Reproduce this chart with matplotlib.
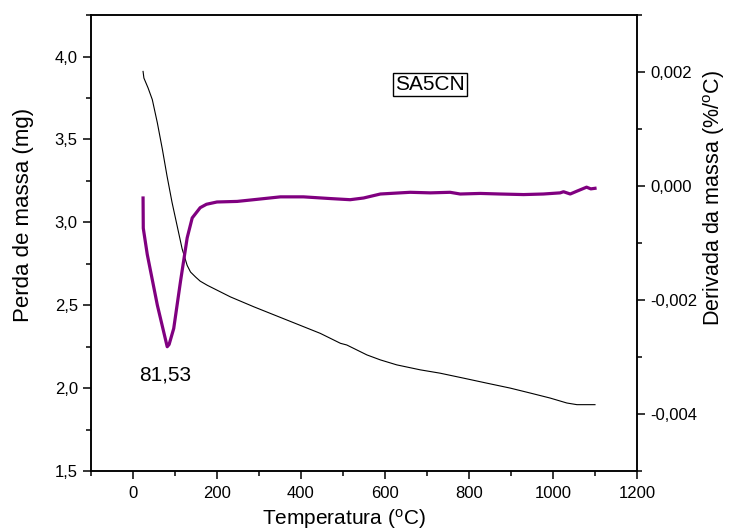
import matplotlib
matplotlib.use("Agg")
import matplotlib.pyplot as plt
from matplotlib.ticker import MultipleLocator, FuncFormatter

plt.rcParams['font.family'] = ['Liberation Sans', 'DejaVu Sans']
plt.rcParams['mathtext.default'] = 'regular'

# TG curve (left axis, mg)
temp_tg = [24, 26, 36, 46, 58, 70, 81, 93, 105, 117, 129, 137, 149, 160, 177, 232, 288, 367, 446,
           470, 494, 509, 557, 589, 628, 684, 731, 787, 842, 898, 946, 993, 1033, 1057, 1100]
mass_tg = [3.91, 3.87, 3.81, 3.74, 3.60, 3.44, 3.28, 3.12, 2.98, 2.84, 2.74, 2.70, 2.67, 2.645, 2.62,
           2.55, 2.49, 2.41, 2.33, 2.30, 2.27, 2.26, 2.20, 2.17, 2.14, 2.11, 2.09, 2.06, 2.03,
           2.00, 1.97, 1.94, 1.91, 1.90, 1.90]

# DTG curve (right axis, %/oC)
temp_dtg = [24, 24.5, 34, 58, 77, 81.5, 86, 97, 113, 129, 141, 160, 175, 200, 248, 287, 351, 406,
            470, 517, 549, 589, 636, 660, 708, 755, 779, 827, 874, 930, 977, 1017, 1025,
            1041, 1057, 1080, 1090, 1100]
deriv_dtg = [-0.00021, -0.00074, -0.00120, -0.00209, -0.00268, -0.00282, -0.00278, -0.00250,
             -0.00168, -0.00091, -0.00056, -0.00038, -0.00032, -0.00028, -0.00027, -0.00024,
             -0.00019, -0.00019, -0.00022, -0.00024, -0.00021, -0.00014, -0.00012, -0.00011,
             -0.00012, -0.00011, -0.00014, -0.00013, -0.00014, -0.00015, -0.00014, -0.00012,
             -0.00010, -0.00014, -0.00009, -0.00002, -0.00005, -0.00004]

peak_label = "81,53"
sample_name = "SA5CN"

fig = plt.figure(figsize=(7.29, 5.32), dpi=100)
ax1 = fig.add_axes([0.1248, 0.1147, 0.749, 0.857])
ax2 = ax1.twinx()

ax1.plot(temp_tg, mass_tg, color="black", linewidth=0.8)
ax2.plot(temp_dtg, deriv_dtg, color="#800080", linewidth=2.3)

ax1.set_xlim(-100, 1200)
ax1.set_ylim(1.5, 4.25)
ax2.set_ylim(-0.005, 0.003)

comma = lambda fmt: FuncFormatter(lambda v, p: (fmt % v).replace(".", ","))
ax1.xaxis.set_major_locator(MultipleLocator(200))
ax1.xaxis.set_minor_locator(MultipleLocator(100))
ax1.yaxis.set_major_locator(MultipleLocator(0.5))
ax1.yaxis.set_minor_locator(MultipleLocator(0.25))
ax1.yaxis.set_major_formatter(comma("%.1f"))
ax2.yaxis.set_major_locator(MultipleLocator(0.002))
ax2.yaxis.set_minor_locator(MultipleLocator(0.001))
ax2.yaxis.set_major_formatter(comma("%.3f"))

for ax in (ax1, ax2):
    for s in ax.spines.values():
        s.set_linewidth(1.1)
    ax.tick_params(which="major", direction="out", length=6, width=1.1, labelsize=12)
    ax.tick_params(which="minor", direction="out", length=3.5, width=1.1)
ax1.tick_params(top=False, right=False, which="both")
ax1.tick_params(axis="x", pad=5)
ax2.tick_params(left=False, which="both")

ax1.set_xlabel("Temperatura ($^o$C)", fontsize=15)
ax1.xaxis.set_label_coords(0.463, -0.079)
ax1.set_ylabel("Perda de massa (mg)", fontsize=16)
ax1.yaxis.set_label_coords(-0.104, 0.561)
ax2.set_ylabel("Derivada da massa (%/$^o$C)", fontsize=15.5)
ax2.yaxis.set_label_coords(1.118, 0.599)

ax1.text(77, 2.08, peak_label, fontsize=15, ha="center", va="center")
ax1.text(708, 3.83, sample_name, fontsize=15, ha="center", va="center",
         bbox=dict(boxstyle="square,pad=0.1", facecolor="white", edgecolor="black", linewidth=1))

fig.savefig("out.png", dpi=100)
